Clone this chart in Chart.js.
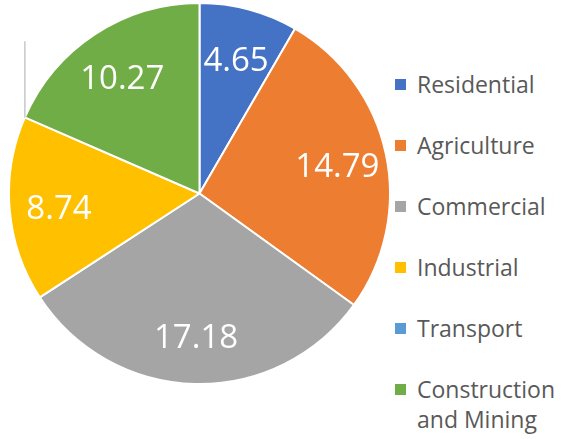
<!DOCTYPE html>
<html lang="en">
<head>
  <meta charset="UTF-8" />
  <title>Pie chart</title>
  <script src="https://cdn.jsdelivr.net/npm/chart.js"></script>
  <style>
    body { margin: 0; background: #fff; font-family: "Open Sans", sans-serif; }
    #wrap { position: relative; width: 572px; height: 439px; overflow: hidden; }
    #pieBox { position: absolute; left: 8px; top: 2px; width: 383px; height: 383px; }
    #legend { position: absolute; left: 395px; top: 69px; margin: 0; padding: 0; list-style: none; }
    #legend li { position: relative; padding-left: 22px; width: 155px; line-height: 30px; margin-bottom: 31px;
                 font-size: 23px; color: #595959; }
    #legend li span { position: absolute; left: 0; top: 10px; width: 11px; height: 11px; }
  </style>
</head>
<body>
  <div id="wrap">
    <div id="pieBox"><canvas id="pie"></canvas></div>
    <ul id="legend"></ul>
  </div>

  <script>
    const categories = ['Residential', 'Agriculture', 'Commercial', 'Industrial', 'Transport', 'Construction and Mining'];
    const values = [4.65, 14.79, 17.18, 8.74, 0, 10.27];
    const colors = ['#4472C4', '#ED7D31', '#A5A5A5', '#FFC000', '#5B9BD5', '#70AD47'];

    // value labels inside the slices, plus the leader line of the empty slice
    const sliceLabels = {
      id: 'sliceLabels',
      afterDatasetsDraw(chart) {
        const ctx = chart.ctx;
        const arcs = chart.getDatasetMeta(0).data;
        ctx.save();
        arcs.forEach((arc, i) => {
          const v = values[i];
          if (v === 0) {
            const a = arc.startAngle;
            const x = arc.x + Math.cos(a) * arc.outerRadius;
            const y = arc.y + Math.sin(a) * arc.outerRadius;
            ctx.strokeStyle = '#c8c8c8';
            ctx.lineWidth = 1.5;
            ctx.beginPath();
            ctx.moveTo(x, y);
            ctx.lineTo(x, y - arc.outerRadius * 0.4);
            ctx.stroke();
            return;
          }
          const mid = (arc.startAngle + arc.endAngle) / 2;
          const r = arc.outerRadius * 0.74;
          ctx.fillStyle = '#fff';
          ctx.font = '33px "Open Sans", sans-serif';
          ctx.textAlign = 'center';
          ctx.textBaseline = 'middle';
          ctx.fillText(v.toFixed(2), arc.x + Math.cos(mid) * r, arc.y + Math.sin(mid) * r + 4);
        });
        ctx.restore();
      }
    };

    new Chart(document.getElementById('pie'), {
      type: 'pie',
      data: {
        labels: categories,
        datasets: [{
          data: values,
          backgroundColor: colors,
          borderColor: '#fff',
          borderWidth: 2
        }]
      },
      options: {
        responsive: true,
        maintainAspectRatio: false,
        animation: false,
        layout: { padding: 0 },
        plugins: {
          legend: { display: false },
          tooltip: { enabled: false }
        }
      },
      plugins: [sliceLabels]
    });

    const legend = document.getElementById('legend');
    categories.forEach((c, i) => {
      const li = document.createElement('li');
      const sw = document.createElement('span');
      sw.style.background = colors[i];
      li.appendChild(sw);
      li.appendChild(document.createTextNode(c));
      legend.appendChild(li);
    });
  </script>
</body>
</html>
